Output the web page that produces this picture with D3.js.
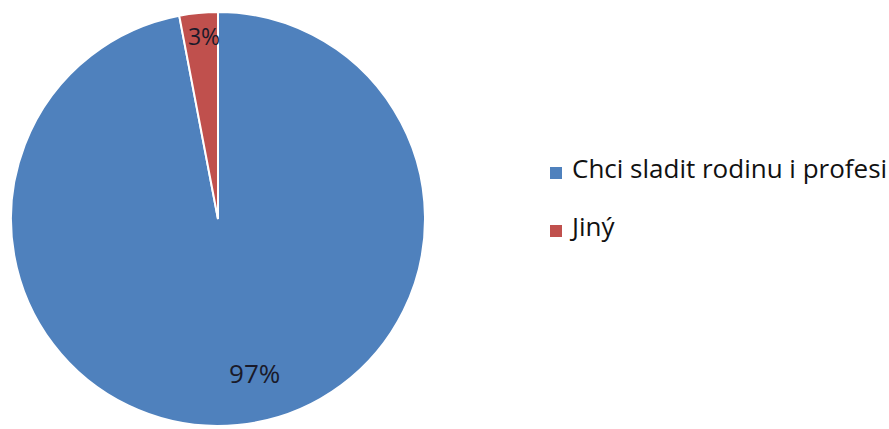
<!DOCTYPE html>
<html>
<head>
<meta charset="utf-8">
<script src="https://cdn.jsdelivr.net/npm/d3@7"></script>
<style>
  html, body { margin: 0; padding: 0; background: #fff; }
  svg { display: block; }
</style>
</head>
<body>
<svg id="chart" width="889" height="429"></svg>
<script>
// Response categories and their shares (%)
const categories = ["Chci sladit rodinu i profesi", "Jiný"];
const values = [97, 3];
const labels = ["97%", "3%"];
const colors = ["#4F81BD", "#C0504D"];

const svg = d3.select("#chart");
const cx = 218, cy = 219, radius = 207;
const font = "'Open Sans', 'DejaVu Sans', sans-serif";

const pie = d3.pie().sort(null).value(d => d.value);
const arcs = pie(categories.map((c, i) => ({ name: c, value: values[i], label: labels[i], color: colors[i] })));

const arc = d3.arc().innerRadius(0).outerRadius(radius);

const g = svg.append("g").attr("transform", `translate(${cx},${cy})`);

g.selectAll("path.slice")
  .data(arcs)
  .enter().append("path")
  .attr("class", "slice")
  .attr("d", arc)
  .attr("fill", d => d.data.color)
  .attr("stroke", "#fff")
  .attr("stroke-width", 2);

// Data labels: placed near the rim, rotated slightly off each slice's mid-angle
const labelRadius = [158, 184];
const labelAngleShift = [-0.14, 0.018];
const labelSize = [26, 23];
g.selectAll("text.lbl")
  .data(arcs)
  .enter().append("text")
  .attr("class", "lbl")
  .attr("x", (d, i) => {
    const a = (d.startAngle + d.endAngle) / 2 + labelAngleShift[i];
    return Math.sin(a) * labelRadius[i];
  })
  .attr("y", (d, i) => {
    const a = (d.startAngle + d.endAngle) / 2 + labelAngleShift[i];
    return -Math.cos(a) * labelRadius[i];
  })
  .attr("text-anchor", "middle")
  .attr("dominant-baseline", "central")
  .attr("font-family", font)
  .attr("font-size", (d, i) => labelSize[i])
  .attr("fill", "#1a1a2a")
  .text(d => d.data.label);

// Legend
const legend = svg.append("g").attr("transform", "translate(550,167)");
const item = legend.selectAll("g.item")
  .data(categories)
  .enter().append("g")
  .attr("class", "item")
  .attr("transform", (d, i) => `translate(0,${i * 58})`);

item.append("rect")
  .attr("width", 12).attr("height", 12)
  .attr("fill", (d, i) => colors[i]);

item.append("text")
  .attr("x", 22)
  .attr("y", 11)
  .attr("font-family", font)
  .attr("font-size", 26)
  .attr("fill", "#111")
  .text(d => d);
</script>
</body>
</html>
